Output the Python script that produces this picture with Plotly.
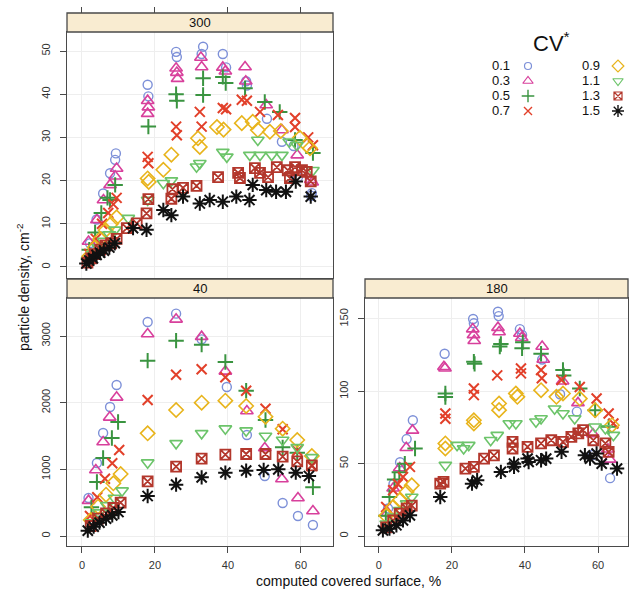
import plotly.graph_objects as go

# ---------------- data ----------------
cv_levels = ["0.1", "0.3", "0.5", "0.7", "0.9", "1.1", "1.3", "1.5"]
panel_names = ["300", "40", "180"]

# panel "300"
surf_300 = [
    [2.2, 4.0, 5.8, 7.7, 9.1, 9.3, 18.0, 18.2, 25.8, 26.0, 33.2, 32.8, 38.6, 39.5, 45.0, 45.2, 50.7, 54.8, 58.0, 59.2, 63.0, 62.8],
    [1.8, 4.1, 5.9, 7.7, 9.1, 9.5, 18.0, 18.2, 18.0, 25.8, 26.0, 26.2, 32.6, 32.8, 38.6, 39.3, 44.7, 44.9, 50.5, 54.8, 59.0, 62.7, 63.1],
    [2.0, 3.6, 5.3, 7.0, 7.7, 9.1, 18.2, 25.8, 26.0, 33.2, 33.2, 38.6, 39.4, 44.7, 50.1, 54.2, 58.4, 63.3],
    [2.0, 3.8, 5.5, 7.2, 8.6, 9.5, 18.0, 18.2, 25.8, 26.0, 32.3, 32.8, 38.6, 39.5, 43.8, 45.2, 48.8, 53.7, 58.4, 58.4, 62.0, 63.3],
    [2.0, 3.5, 5.0, 6.5, 8.0, 9.5, 18.0, 18.3, 22.3, 24.5, 31.8, 32.3, 37.0, 38.8, 43.8, 46.8, 48.2, 51.5, 54.5, 59.7, 61.6, 62.5],
    [1.5, 3.0, 4.5, 6.0, 7.5, 9.1, 12.7, 18.0, 22.3, 24.5, 32.3, 31.4, 38.6, 39.7, 46.0, 48.8, 48.2, 52.0, 54.8, 56.8, 58.9, 63.3],
    [1.5, 2.5, 3.5, 5.0, 6.5, 8.0, 9.5, 12.3, 15.0, 17.7, 18.2, 24.5, 24.8, 27.7, 31.4, 37.3, 42.8, 43.3, 47.4, 48.8, 51.0, 53.4, 56.4, 57.0, 58.4, 60.3, 61.6, 62.7],
    [1.2, 2.0, 3.0, 4.0, 5.0, 6.0, 7.5, 9.0, 14.0, 17.7, 22.3, 24.5, 27.7, 32.3, 35.0, 38.6, 42.3, 45.9, 46.8, 50.5, 53.2, 55.9, 58.6, 62.7],
]
dens_300 = [
    [5.5, 11.0, 17.0, 21.7, 24.8, 26.3, 42.2, 39.5, 49.8, 48.6, 51.0, 49.3, 49.3, 46.2, 43.0, 42.0, 34.3, 29.0, 28.0, 20.8, 17.1, 16.5],
    [5.9, 10.9, 15.5, 19.0, 21.0, 22.8, 38.5, 37.0, 35.5, 46.0, 45.0, 43.6, 48.5, 46.3, 46.2, 45.3, 46.3, 43.0, 37.5, 31.7, 25.9, 20.2, 19.6],
    [4.0, 8.0, 12.5, 16.0, 15.5, 19.0, 32.5, 40.0, 38.5, 43.7, 39.8, 44.0, 42.6, 41.4, 38.2, 35.9, 29.4, 26.4],
    [3.0, 6.5, 10.0, 12.5, 14.5, 16.0, 25.5, 24.0, 32.5, 30.5, 35.9, 32.5, 36.8, 36.5, 38.7, 38.5, 35.9, 35.2, 34.5, 32.4, 30.0, 28.2],
    [2.5, 4.5, 6.5, 8.5, 10.0, 11.5, 20.5, 19.7, 22.5, 26.0, 29.8, 27.8, 32.4, 31.8, 33.3, 33.6, 31.7, 31.3, 31.5, 29.9, 28.2, 27.5],
    [1.5, 3.0, 4.5, 6.0, 7.5, 8.6, 11.3, 15.5, 19.4, 20.0, 24.0, 23.2, 26.6, 25.5, 25.9, 25.9, 29.4, 25.9, 25.9, 29.0, 28.2, 22.4],
    [1.0, 2.0, 3.0, 4.0, 5.0, 5.5, 6.5, 9.0, 10.1, 12.4, 15.7, 15.8, 18.0, 18.3, 18.8, 20.8, 21.8, 20.6, 22.9, 21.8, 20.8, 23.1, 22.4, 20.6, 23.1, 22.4, 22.0, 19.8],
    [0.8, 1.5, 2.0, 2.8, 3.3, 3.8, 4.5, 5.5, 9.0, 8.6, 13.2, 12.0, 16.3, 14.7, 15.5, 15.1, 16.3, 15.5, 19.0, 17.8, 17.4, 17.4, 19.8, 16.3],
]

# panel "40"
surf_40 = [
    [1.8, 4.1, 5.8, 7.7, 9.5, 18.0, 25.8, 32.8, 39.7, 45.2, 50.1, 55.0, 59.2, 63.3],
    [1.8, 3.8, 5.8, 7.6, 9.5, 18.0, 25.8, 32.8, 39.3, 45.2, 50.1, 54.8, 59.2, 63.3],
    [2.6, 4.1, 5.8, 8.2, 9.9, 18.0, 25.8, 32.8, 39.3, 45.0, 50.3, 55.0, 59.0, 63.3],
    [2.2, 4.2, 6.3, 8.3, 10.2, 18.0, 25.8, 32.8, 39.3, 45.0, 50.3, 55.0, 59.0, 63.0],
    [2.4, 4.4, 6.6, 8.6, 10.6, 18.0, 25.8, 32.8, 39.3, 45.0, 50.3, 55.0, 59.0, 63.0],
    [2.6, 4.6, 6.8, 8.9, 11.0, 18.0, 25.8, 32.8, 39.3, 45.0, 50.3, 55.0, 59.0, 63.0],
    [2.4, 4.4, 6.6, 8.6, 10.6, 18.0, 25.8, 32.8, 39.3, 45.0, 50.3, 55.0, 59.0, 63.0],
    [1.6, 3.2, 4.8, 6.6, 8.3, 10.0, 18.0, 25.8, 32.8, 39.3, 45.0, 49.8, 53.8, 58.6, 62.2],
]
dens_40 = [
    [570, 1095, 1545, 1935, 2265, 3210, 3335, 2950, 2235, 1515, 900, 495, 300, 165],
    [530, 990, 1410, 1780, 2080, 3030, 3250, 2990, 2470, 1875, 1320, 855, 570, 375],
    [430, 810, 1170, 1470, 1710, 2630, 2930, 2870, 2610, 2180, 1740, 1330, 1250, 730],
    [300, 580, 860, 1090, 1290, 2040, 2420, 2500, 2380, 2180, 1910, 1600, 1280, 1050],
    [240, 440, 620, 790, 930, 1540, 1890, 2000, 2030, 1950, 1790, 1610, 1440, 1200],
    [200, 350, 460, 570, 680, 1100, 1390, 1540, 1610, 1580, 1500, 1440, 1330, 1180],
    [150, 260, 340, 420, 500, 820, 1040, 1160, 1220, 1230, 1230, 1190, 1120, 1060],
    [80, 140, 200, 260, 310, 360, 600, 770, 880, 950, 980, 990, 1000, 950, 900],
]

# panel "180"
surf_180 = [
    [2.5, 4.0, 5.8, 7.6, 9.3, 18.0, 25.8, 26.0, 32.6, 32.8, 38.6, 39.2, 44.7, 49.6, 54.2, 58.5, 63.3],
    [2.4, 3.9, 5.7, 7.5, 9.2, 17.8, 18.1, 25.7, 25.9, 26.1, 32.6, 32.9, 38.6, 39.1, 44.7, 45.0, 50.3, 54.5, 58.6, 62.7, 63.2],
    [1.9, 2.9, 4.3, 5.6, 7.1, 9.9, 18.2, 18.2, 26.0, 26.2, 33.4, 33.1, 39.4, 39.2, 44.4, 50.4, 50.6, 55.0, 59.2, 62.9],
    [2.0, 3.9, 5.2, 6.6, 8.5, 18.2, 18.2, 26.0, 26.0, 32.4, 38.9, 38.9, 44.4, 44.6, 50.0, 55.0, 59.6, 62.9, 64.2],
    [2.0, 3.9, 5.7, 7.6, 9.0, 18.2, 18.2, 26.0, 26.0, 32.9, 32.9, 37.5, 37.9, 44.4, 48.6, 50.4, 55.0, 59.2, 63.8],
    [2.0, 3.9, 5.7, 7.6, 9.0, 18.2, 21.4, 23.2, 24.6, 30.6, 32.4, 35.7, 37.5, 43.0, 44.4, 48.1, 50.4, 53.6, 59.2, 62.0, 64.2],
    [2.0, 3.9, 5.7, 7.6, 9.0, 16.8, 17.7, 23.7, 26.0, 28.8, 31.5, 36.6, 36.6, 40.7, 44.4, 47.2, 50.4, 52.7, 54.6, 55.9, 58.7, 62.0, 62.9],
    [1.1, 2.9, 4.8, 6.6, 8.5, 16.8, 25.5, 26.9, 33.4, 37.0, 37.0, 40.7, 41.0, 44.4, 45.8, 50.0, 56.4, 57.8, 59.6, 61.0, 65.2],
]
dens_180 = [
    [19, 36, 51, 67, 80, 126, 150, 147, 155, 152, 143, 139, 122, 98, 86, 56, 40],
    [16, 33, 47, 61, 73, 117, 116, 143, 139, 135, 144, 141, 140, 137, 131, 122, 107, 92, 70.5, 60, 53],
    [14, 27, 39, 44, 50, 60.5, 98.5, 96, 120.5, 119, 132.7, 131, 134, 129.7, 126, 114.7, 111, 102, 87, 75.5],
    [20, 31.6, 36, 40.8, 47.8, 84.7, 81, 102, 97.4, 111, 115.8, 112.4, 114.7, 109, 107.8, 103, 95, 84.7, 77.8],
    [14, 20, 24.7, 30.5, 35, 64, 60.5, 80, 77.8, 91.6, 87, 98.5, 96.2, 100.8, 96.2, 98.5, 95, 87, 76.6],
    [8.5, 13.2, 17.8, 22.4, 27, 49, 62.8, 60.5, 62.8, 66.2, 69.7, 77.8, 77.8, 79, 81.2, 88, 84.7, 81.2, 75.5, 74.3, 69.7],
    [6, 10.8, 15.5, 19, 21, 36.2, 37.4, 46.6, 47.8, 53.5, 55.8, 65, 60.5, 61.6, 64, 66.2, 65, 68.5, 70.9, 73.2, 66.2, 64, 58.2],
    [3.9, 5.1, 7.4, 10.8, 14.3, 27, 36.2, 38.5, 44.3, 50, 47.8, 53.5, 51.2, 52.4, 53.5, 58.2, 55.8, 53.5, 57, 50, 46.6],
]

tick_x = [0, 20, 40, 60]

# ---------------- styles ----------------
colors = ["#7d90d8", "#d8409c", "#3a9440", "#e2402a", "#e8b41c", "#6cc46a", "#b3372c", "#111111"]
symbols = ["circle-open", "triangle-up-open", "cross-thin-open", "x-thin-open",
           "diamond-open", "triangle-down-open", "square-x-open", "asterisk-open"]
sizes = [9, 11, 11, 10, 11, 11, 10, 12]
widths = [1.4, 1.6, 2.0, 2.0, 1.6, 1.6, 1.8, 2.0]

W, H = 630, 598
FONT = "Liberation Sans, Arial, Helvetica, sans-serif"
LINE = "#4a4a4a"
STRIP = "#f9ecd1"


def fx(p):
    return p / W


def fy(p):
    return 1 - p / H


panels = [
    dict(xa="x", ya="y", xpx=(67, 333), ypx=(32, 278), strip=(13, 32),
         xr=[-4.1, 68.8], yr=[-2.55, 54.4], dtick=10, showx=False,
         surf=surf_300, dens=dens_300, name=panel_names[0]),
    dict(xa="x2", ya="y2", xpx=(67, 333), ypx=(298, 546), strip=(279, 298),
         xr=[-4.1, 68.8], yr=[-150, 3570], dtick=1000, showx=True,
         surf=surf_40, dens=dens_40, name=panel_names[1]),
    dict(xa="x3", ya="y3", xpx=(365, 628), ypx=(298, 546), strip=(279, 298),
         xr=[-3.8, 68.2], yr=[-6.9, 164.5], dtick=50, showx=True,
         surf=surf_180, dens=dens_180, name=panel_names[2]),
]

fig = go.Figure()
layout = dict(
    width=W, height=H, margin=dict(l=0, r=0, t=0, b=0),
    paper_bgcolor="white", plot_bgcolor="white", showlegend=False,
    font=dict(family=FONT, color="#222"),
)
shapes = []
annotations = []

for i, p in enumerate(panels):
    suffix = "" if i == 0 else str(i + 1)
    for k, lev in enumerate(cv_levels):
        fig.add_trace(go.Scatter(
            x=p["surf"][k], y=p["dens"][k], mode="markers", name=lev,
            xaxis=p["xa"], yaxis=p["ya"],
            marker=dict(symbol=symbols[k], size=sizes[k], color=colors[k],
                        line=dict(color=colors[k], width=widths[k])),
            showlegend=False, hoverinfo="x+y+name",
        ))
    layout["xaxis" + suffix] = dict(
        domain=[fx(p["xpx"][0]), fx(p["xpx"][1])], anchor=p["ya"], range=p["xr"],
        tickvals=tick_x, showticklabels=p["showx"], ticks="outside" if p["showx"] else "",
        ticklen=6, tickcolor=LINE, tickwidth=1, showline=True, mirror=True,
        linecolor=LINE, linewidth=1.3, showgrid=True, gridcolor="#eeeeee",
        zeroline=False, tickfont=dict(size=11, color="#333", family=FONT),
        ticklabelstandoff=3,
    )
    layout["yaxis" + suffix] = dict(
        domain=[fy(p["ypx"][1]), fy(p["ypx"][0])], anchor=p["xa"], range=p["yr"],
        dtick=p["dtick"], tick0=0, ticks="outside", ticklen=6, tickcolor=LINE,
        tickwidth=1, tickangle=-90, showline=True, mirror=True, linecolor=LINE,
        linewidth=1.3, showgrid=True, gridcolor="#eeeeee", zeroline=False,
        tickfont=dict(size=11, color="#333", family=FONT), ticklabelstandoff=5,
    )
    shapes.append(dict(type="rect", xref="paper", yref="paper",
                       x0=fx(p["xpx"][0]), x1=fx(p["xpx"][1]),
                       y0=fy(p["strip"][1]), y1=fy(p["strip"][0]),
                       fillcolor=STRIP, line=dict(color=LINE, width=1.3)))
    annotations.append(dict(xref="paper", yref="paper",
                            x=fx((p["xpx"][0] + p["xpx"][1]) / 2),
                            y=fy((p["strip"][0] + p["strip"][1]) / 2),
                            text=p["name"], showarrow=False,
                            font=dict(size=13, color="#111", family=FONT),
                            xanchor="center", yanchor="middle"))

# top ticks for upper panel (above its strip)
fig.add_trace(go.Scatter(x=[], y=[], xaxis="x4", yaxis="y", showlegend=False,
                         hoverinfo="skip"))
layout["xaxis4"] = dict(overlaying="x", anchor="free", position=fy(13), side="top",
                        range=panels[0]["xr"], tickvals=tick_x, ticks="outside",
                        ticklen=6, tickcolor=LINE, showticklabels=False,
                        showgrid=False, showline=False, zeroline=False)

# legend (manual, 2 columns, text left of key)
leg_x0, leg_y0 = 528, 66
for k, lev in enumerate(cv_levels):
    col, row = k // 4, k % 4
    kx = leg_x0 + col * 90
    ky = leg_y0 + row * 15
    fig.add_trace(go.Scatter(
        x=[kx], y=[ky], mode="markers", xaxis="x5", yaxis="y5", showlegend=False,
        hoverinfo="skip",
        marker=dict(symbol=symbols[k], size=sizes[k] - 2, color=colors[k],
                    line=dict(color=colors[k], width=max(1.2, widths[k] - 0.6))),
    ))
    annotations.append(dict(xref="x5", yref="y5", x=kx - 17, y=ky, text=lev,
                            showarrow=False, xanchor="right", yanchor="middle",
                            borderpad=0,
                            font=dict(size=13, color="#111", family=FONT)))
layout["xaxis5"] = dict(domain=[fx(470), 1.0], range=[470, 630], visible=False,
                        anchor="y5", fixedrange=True)
layout["yaxis5"] = dict(domain=[fy(125), fy(20)], range=[125, 20], visible=False,
                        anchor="x5", fixedrange=True)
annotations.append(dict(xref="x5", yref="y5", x=551, y=42, text="CV<sup>*</sup>",
                        showarrow=False, xanchor="center", yanchor="middle",
                        font=dict(size=22, color="#111", family=FONT)))

# axis titles
annotations.append(dict(xref="paper", yref="paper", x=fx(23), y=fy(287),
                        text="particle density, cm<sup>-2</sup>", textangle=-90,
                        showarrow=False, xanchor="center", yanchor="middle",
                        font=dict(size=14, color="#111", family=FONT)))
annotations.append(dict(xref="paper", yref="paper", x=fx(348), y=fy(581),
                        text="computed covered surface, %", showarrow=False,
                        xanchor="center", yanchor="middle",
                        font=dict(size=14, color="#111", family=FONT)))

layout["shapes"] = shapes
layout["annotations"] = annotations
fig.update_layout(**layout)
fig.write_html("out.html")
